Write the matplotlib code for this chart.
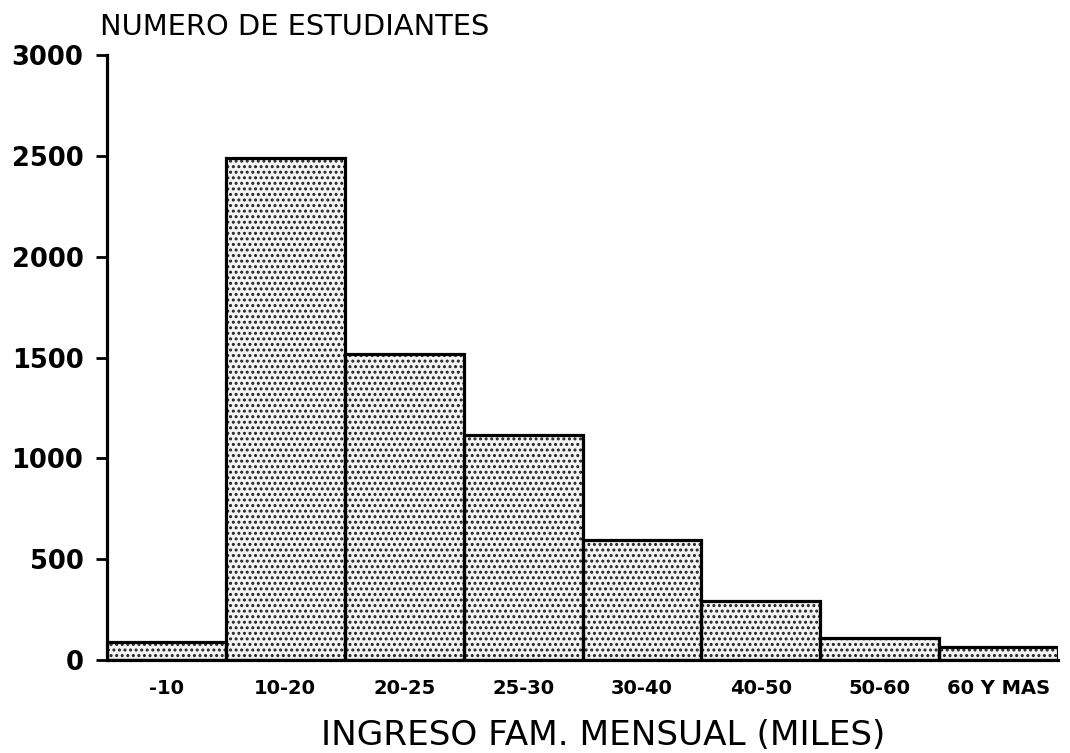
import matplotlib
matplotlib.use("Agg")
import matplotlib.pyplot as plt
import numpy as np

categories = ["-10", "10-20", "20-25", "25-30", "30-40", "40-50", "50-60", "60 Y MAS"]
students = [90, 2490, 1515, 1115, 595, 295, 110, 65]
yticks = [0, 500, 1000, 1500, 2000, 2500, 3000]
ylabel_text = "NUMERO DE ESTUDIANTES"
xlabel_text = "INGRESO FAM. MENSUAL (MILES)"

plt.rcParams['font.family'] = ['DejaVu Sans']
plt.rcParams['hatch.linewidth'] = 1.4

fig = plt.figure(figsize=(10.70, 7.53), dpi=100)
ax = fig.add_axes([107/1070, 93/753, (1058-107)/1070, (660-55)/753])

x = np.arange(len(categories))
ax.bar(x, students, width=1.0, color="#f4f4f4", edgecolor="#222222", hatch="...", linewidth=0)
ax.bar(x, students, width=1.0, fill=False, edgecolor="black", linewidth=2.3)

ax.set_xlim(-0.5, len(categories) - 0.5)
ax.set_ylim(0, 3000)
ax.set_yticks(yticks)
ax.set_yticklabels([str(v) for v in yticks], fontsize=18.5, fontweight="bold")
ax.set_xticks(x)
ax.set_xticklabels(categories, fontsize=14, fontweight="bold")
ax.tick_params(axis="x", length=0, pad=14)
ax.tick_params(axis="y", length=8, width=2, pad=9)

for s in ["top", "right"]:
    ax.spines[s].set_visible(False)
ax.spines["left"].set_linewidth(2.3)
ax.spines["bottom"].set_linewidth(2.3)

fig.text(100/1070, 1 - 35/753, ylabel_text, fontsize=20.8, ha="left", va="baseline")
fig.text(603/1070, 1 - 745/753, xlabel_text, fontsize=24.7, ha="center", va="baseline")

fig.savefig("out.png", dpi=100)
